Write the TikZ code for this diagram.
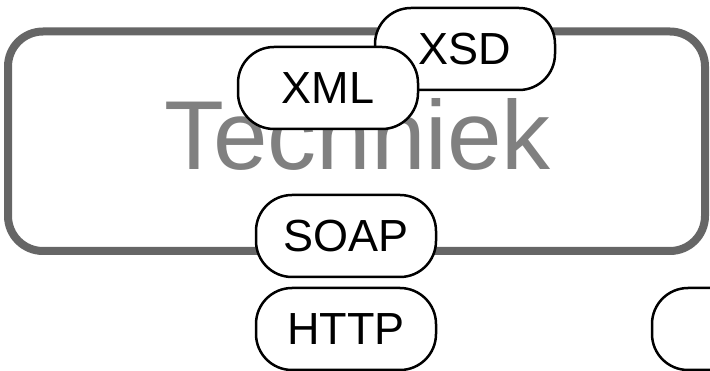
\documentclass[tikz,border=0pt]{standalone}
\usepackage{fontspec}
\setmainfont{Liberation Sans}
\definecolor{rimgray}{HTML}{666666}
\definecolor{labelgray}{HTML}{808080}
\tikzset{
	frame/.style={draw=rimgray, line width=8pt, rounded corners=35pt, minimum width=697pt, minimum height=219.5pt, inner sep=0pt},
	pill/.style={draw=black, line width=2.5pt, fill=white, rounded corners=36pt, minimum width=180pt, minimum height=82pt, inner sep=0pt, font=\fontsize{45}{54}\selectfont},
}
\begin{document}
\begin{tikzpicture}[x=1pt,y=-1pt]
		\useasboundingbox (0,0) rectangle (710,371);
		\clip (0,0) rectangle (710,371);
		\node[frame] (techframe) at (356.5,141.25) {};
		\node[labelgray, anchor=base, font=\fontsize{98}{110}\selectfont] (techniek) at (357.5,170) {Techniek};
		\node[pill] (xsd) at (465,49) {XSD};
		\node[pill] (xml) at (328,88) {XML};
		\node[pill] (soap) at (346,236) {SOAP};
		\node[pill] (http) at (346,329) {HTTP};
		\node[pill] (rest) at (742,329) {};
\end{tikzpicture}
\end{document}
